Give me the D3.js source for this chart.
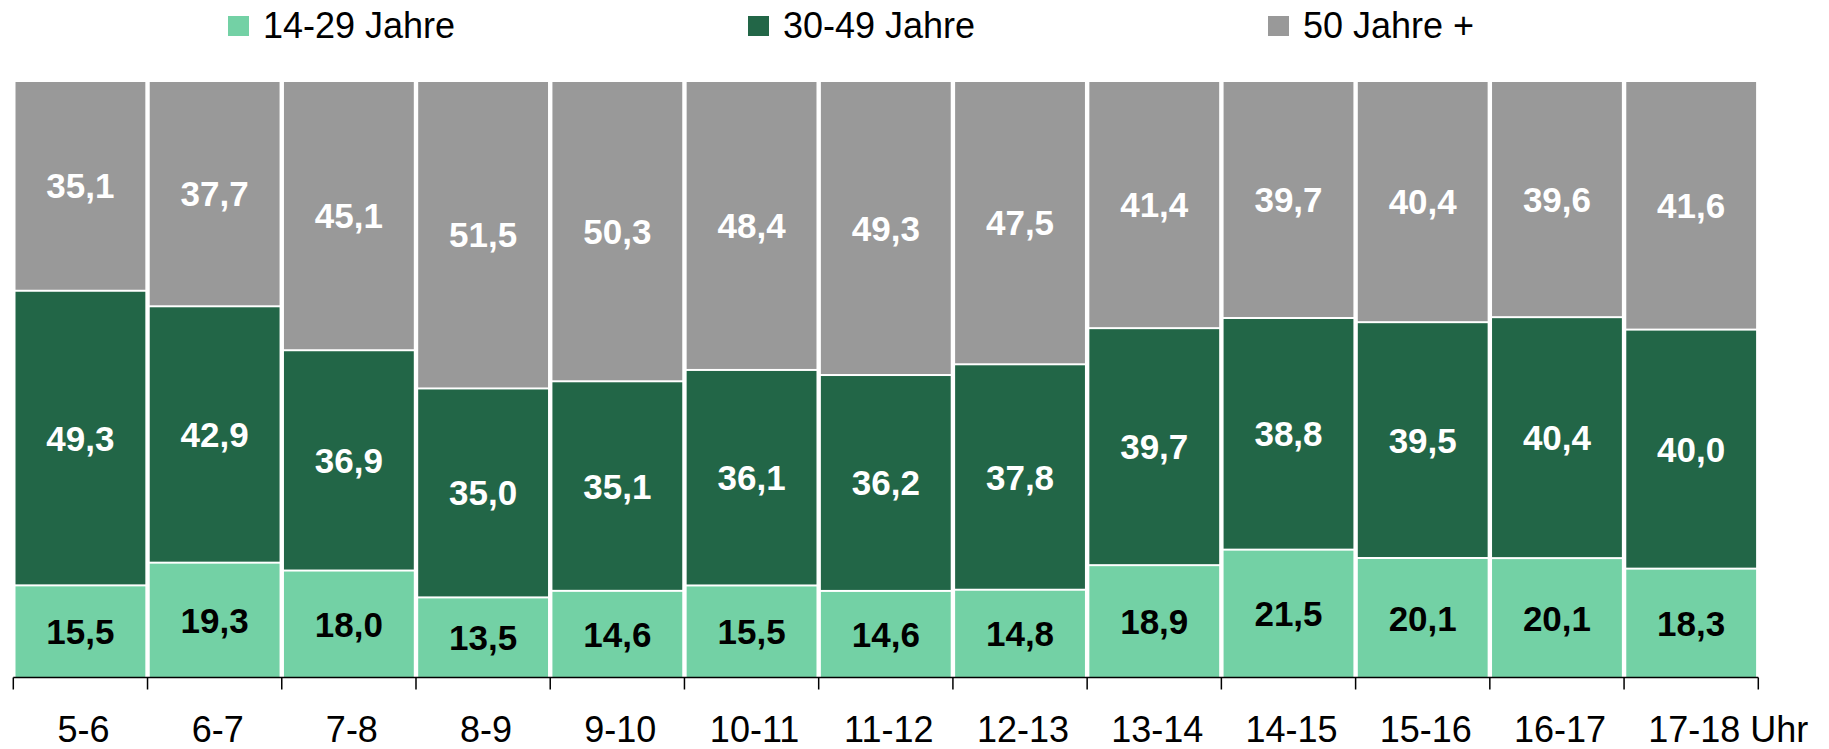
<!DOCTYPE html>
<html>
<head>
<meta charset="utf-8">
<script src="https://cdn.jsdelivr.net/npm/d3@7"></script>
<style>
  body { margin: 0; background: #fff; }
  svg { display: block; font-family: Arial, "Liberation Sans", sans-serif; }
</style>
</head>
<body>
<svg id="chart" width="1829" height="749"></svg>
<script>
// Stunden (Zeitschienen)
const categories = ['5-6', '6-7', '7-8', '8-9', '9-10', '10-11', '11-12', '12-13', '13-14', '14-15', '15-16', '16-17', '17-18'];
const seriesNames = ['14-29 Jahre', '30-49 Jahre', '50 Jahre +'];
const young = [15.5, 19.3, 18.0, 13.5, 14.6, 15.5, 14.6, 14.8, 18.9, 21.5, 20.1, 20.1, 18.3];
const middle = [49.3, 42.9, 36.9, 35.0, 35.1, 36.1, 36.2, 37.8, 39.7, 38.8, 39.5, 40.4, 40.0];
const old = [35.1, 37.7, 45.1, 51.5, 50.3, 48.4, 49.3, 47.5, 41.4, 39.7, 40.4, 39.6, 41.6];
const unitLabel = 'Uhr';

const colors = ['#73d1a5', '#226647', '#999999'];
const labelColors = ['#000', '#fff', '#fff'];

const rows = categories.map((c, i) => ({ cat: c, s0: young[i], s1: middle[i], s2: old[i] }));

const svg = d3.select('#chart');

const x = d3.scaleBand().domain(categories).range([13.3, 1758.3]).padding(0);
const y = d3.scaleLinear().domain([0, 1]).range([678, 81]);

const stack = d3.stack().keys(['s0', 's1', 's2']).offset(d3.stackOffsetExpand);
const series = stack(rows);

const fmt = v => v.toFixed(1).replace('.', ',');

const layers = svg.selectAll('g.layer')
  .data(series)
  .enter()
  .append('g')
  .attr('class', 'layer')
  .attr('fill', (d, i) => colors[i]);

layers.selectAll('rect')
  .data(d => d)
  .enter()
  .append('rect')
  .attr('x', d => x(d.data.cat) + 2.2)
  .attr('width', x.bandwidth() - 4.4)
  .attr('y', d => y(d[1]) + 1)
  .attr('height', d => y(d[0]) - y(d[1]) - 2);

// Werte in den Segmenten
series.forEach((s, si) => {
  svg.append('g')
    .selectAll('text')
    .data(s)
    .enter()
    .append('text')
    .attr('x', d => x(d.data.cat) + x.bandwidth() / 2)
    .attr('y', d => (y(d[0]) + y(d[1])) / 2 + 12.5)
    .attr('text-anchor', 'middle')
    .attr('font-size', 35)
    .attr('font-weight', 'bold')
    .attr('fill', labelColors[si])
    .text(d => fmt(d.data[s.key]));
});

// x-Achse
const axisY = 677.5;
const axis = svg.append('g')
  .attr('transform', `translate(0,${axisY})`)
  .call(d3.axisBottom(x).tickSize(0).tickPadding(38.5));
axis.select('.domain').remove();
axis.selectAll('text')
  .attr('font-size', 36)
  .attr('font-family', 'Arial, "Liberation Sans", sans-serif')
  .attr('fill', '#000')
  .attr('dx', 3);

svg.append('line')
  .attr('x1', x.range()[0]).attr('x2', x.range()[1])
  .attr('y1', axisY).attr('y2', axisY)
  .attr('stroke', '#000').attr('stroke-width', 1.5);

const bounds = categories.map(c => x(c)).concat([x.range()[1]]);
svg.append('g')
  .selectAll('line')
  .data(bounds)
  .enter()
  .append('line')
  .attr('x1', d => d).attr('x2', d => d)
  .attr('y1', axisY).attr('y2', axisY + 12)
  .attr('stroke', '#000').attr('stroke-width', 1.5);

// "Uhr" hinter dem letzten Label
const lastTick = axis.selectAll('.tick text').filter(d => d === categories[categories.length - 1]);
const lastBox = lastTick.node().getBBox();
const lastX = x(categories[categories.length - 1]) + x.bandwidth() / 2 + 3;
svg.append('text')
  .attr('x', lastX + lastBox.width / 2 + 10)
  .attr('y', 741.5)
  .attr('font-size', 36)
  .attr('fill', '#000')
  .text(unitLabel);

// Legende
const legend = svg.append('g')
  .selectAll('g')
  .data(seriesNames)
  .enter()
  .append('g')
  .attr('transform', (d, i) => `translate(${228 + i * 520},0)`);

legend.append('rect')
  .attr('x', 0).attr('y', 16)
  .attr('width', 21).attr('height', 20)
  .attr('fill', (d, i) => colors[i]);

legend.append('text')
  .attr('x', 35).attr('y', 38)
  .attr('font-size', 36)
  .attr('fill', '#000')
  .text(d => d);
</script>
</body>
</html>
